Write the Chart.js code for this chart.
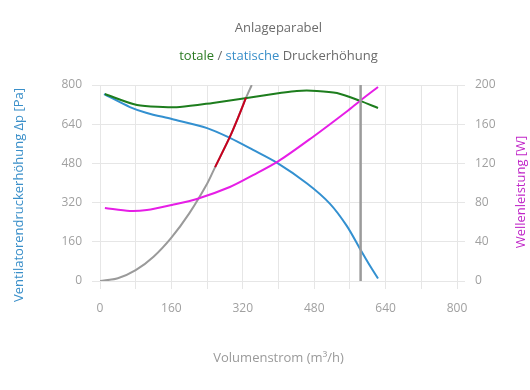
<!DOCTYPE html>
<html>
<head>
<meta charset="utf-8">
<script src="https://cdn.jsdelivr.net/npm/chart.js@4/dist/chart.umd.min.js"></script>
<style>
  html, body { margin: 0; padding: 0; background: #fff; }
  #wrap { width: 530px; height: 390px; position: relative; }
</style>
</head>
<body>
<div id="wrap"><canvas id="chart"></canvas></div>
<script>
// static pressure (blue)
const flowStatic = [9, 67, 105, 161, 240, 291, 343, 397, 464, 515, 553, 584, 605, 623];
const pressureStatic = [763, 710, 686, 661, 624, 584, 535, 482, 398, 316, 225, 127, 62, 10];

// total pressure (green)
const flowTotal = [11, 83, 141, 179, 253, 329, 403, 441, 486, 531, 583, 623];
const pressureTotal = [763, 718, 710, 710, 727, 747, 767, 776, 776, 767, 735, 706];

// shaft power (magenta, right axis)
const flowPower = [11, 67, 105, 161, 217, 291, 343, 399, 477, 553, 583, 623];
const power = [74.5, 71.4, 72.4, 77.6, 83.7, 95.9, 108, 122, 147, 173, 184, 198];

// system curve (gray) and operating section (red)
const flowSystem = [0, 40, 80, 120, 160, 200, 240, 258, 291, 309, 327, 340];
const pressureSystem = [0, 11, 44, 99, 177, 276, 397, 465, 588, 665, 747, 800];
const flowRange = [258, 291, 309, 327];
const pressureRange = [465, 588, 665, 747];

// operating point marker line
const flowMarker = [584, 584];
const pressureMarker = [0, 800];

const xTicks = { min: 0, max: 800, step: 80, labelStep: 160 };
const yLeftTicks = { min: 0, max: 800, step: 160 };
const yRightTicks = { min: 0, max: 200, step: 40 };

const FONT = "'Open Sans', 'Noto Sans', sans-serif";
const GRID = '#e6e6e6';
const TICK_COLOR = '#a0a0a0';

function toPoints(xs, ys) {
  return xs.map((x, i) => ({ x: x, y: ys[i] }));
}

function lineSet(label, xs, ys, color, axis, width) {
  return {
    label: label,
    data: toPoints(xs, ys),
    borderColor: color,
    backgroundColor: color,
    borderWidth: width || 2,
    pointRadius: 0,
    fill: false,
    tension: 0.3,
    yAxisID: axis || 'y'
  };
}

// Draws titles and axis titles where the reference puts them
const titlePlugin = {
  id: 'titles',
  afterDraw(chart) {
    const ctx = chart.ctx;
    const a = chart.chartArea;
    const cx = (a.left + a.right) / 2;
    ctx.save();
    ctx.textBaseline = 'middle';

    ctx.font = '13px ' + FONT;
    ctx.fillStyle = '#6b6b6b';
    ctx.textAlign = 'center';
    ctx.fillText('Anlageparabel', cx, 28);

    // multicolour subtitle
    const parts = [
      ['totale', '#2a7a22'],
      [' / ', '#6b6b6b'],
      ['statische', '#3a8fc9'],
      [' Druckerhöhung', '#6b6b6b']
    ];
    const total = parts.reduce((s, p) => s + ctx.measureText(p[0]).width, 0);
    let x = cx - total / 2;
    ctx.textAlign = 'left';
    parts.forEach(p => {
      ctx.fillStyle = p[1];
      ctx.fillText(p[0], x, 56);
      x += ctx.measureText(p[0]).width;
    });

    // x axis title
    ctx.textAlign = 'center';
    ctx.fillStyle = '#9a9a9a';
    ctx.fillText('Volumenstrom (m³/h)', cx, 358);

    // left axis title
    ctx.save();
    ctx.translate(19, 195);
    ctx.rotate(-Math.PI / 2);
    ctx.fillStyle = '#3a8fc9';
    ctx.fillText('Ventilatorendruckerhöhung Δp [Pa]', 0, 0);
    ctx.restore();

    // right axis title
    ctx.save();
    ctx.translate(521, 192);
    ctx.rotate(-Math.PI / 2);
    ctx.fillStyle = '#c026c8';
    ctx.fillText('Wellenleistung [W]', 0, 0);
    ctx.restore();

    ctx.restore();
  }
};

// first dataset is painted last (on top)
const ctx = document.getElementById('chart').getContext('2d');
new Chart(ctx, {
  type: 'line',
  data: {
    datasets: [
      Object.assign(lineSet('Betriebspunkt', flowMarker, pressureMarker, '#9b9b9b', 'y', 2.5), { tension: 0 }),
      lineSet('Betriebsbereich', flowRange, pressureRange, '#c8001e'),
      lineSet('Wellenleistung', flowPower, power, '#e61ee6', 'y1'),
      lineSet('total', flowTotal, pressureTotal, '#1d7d1d'),
      lineSet('statisch', flowStatic, pressureStatic, '#3390d0'),
      lineSet('Anlagekennlinie', flowSystem, pressureSystem, '#9a9a9a')
    ]
  },
  options: {
    responsive: true,
    maintainAspectRatio: false,
    animation: false,
    layout: { padding: { top: 85, left: 0, right: 0, bottom: 0 } },
    plugins: {
      legend: { display: false },
      title: { display: false },
      tooltip: { enabled: false }
    },
    scales: {
      x: {
        type: 'linear',
        min: xTicks.min,
        max: xTicks.max,
        afterFit(scale) { scale.height = 109; },
        grid: { color: GRID, tickLength: 8 },
        border: { color: GRID },
        ticks: {
          stepSize: xTicks.step,
          autoSkip: false,
          maxRotation: 0,
          padding: 12,
          color: TICK_COLOR,
          font: { family: FONT, size: 12 },
          callback: v => (v % xTicks.labelStep === 0 ? v : '')
        }
      },
      y: {
        position: 'left',
        min: yLeftTicks.min,
        max: yLeftTicks.max,
        afterFit(scale) { scale.width = 100; },
        grid: { color: GRID, tickLength: 8 },
        border: { color: GRID },
        ticks: {
          stepSize: yLeftTicks.step,
          padding: 10,
          color: TICK_COLOR,
          font: { family: FONT, size: 12 }
        }
      },
      y1: {
        position: 'right',
        min: yRightTicks.min,
        max: yRightTicks.max,
        afterFit(scale) { scale.width = 73; },
        grid: { color: GRID, tickLength: 8, drawOnChartArea: false },
        border: { color: GRID },
        ticks: {
          stepSize: yRightTicks.step,
          padding: 10,
          color: TICK_COLOR,
          font: { family: FONT, size: 12 }
        }
      }
    }
  },
  plugins: [titlePlugin]
});
</script>
</body>
</html>
